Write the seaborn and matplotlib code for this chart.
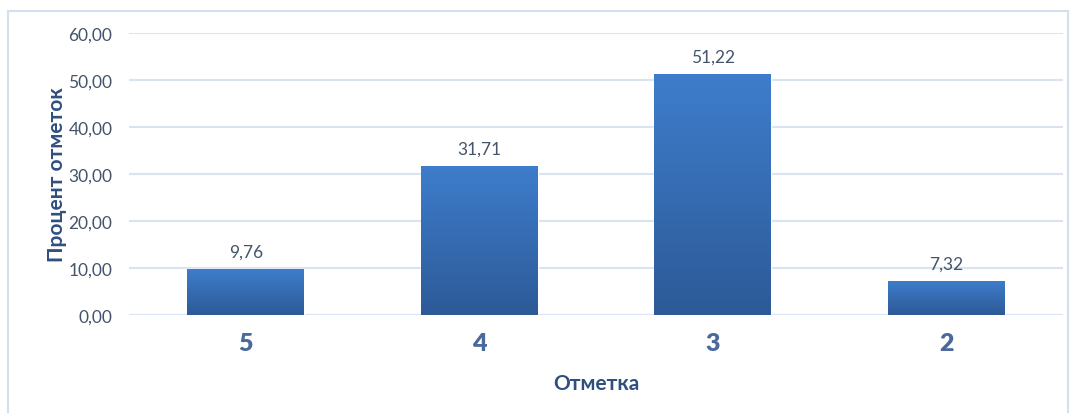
import numpy as np
import pandas as pd
import seaborn as sns
import matplotlib.pyplot as plt
from matplotlib.patches import Rectangle
from matplotlib.colors import LinearSegmentedColormap

# data
marks = ["5", "4", "3", "2"]
percents = [9.76, 31.71, 51.22, 7.32]
y_ticks = [0, 10, 20, 30, 40, 50, 60]

df = pd.DataFrame({"mark": marks, "percent": percents})

sns.set_style("white")
plt.rcParams["font.family"] = ["Lato", "DejaVu Sans"]

text_col = "#44546A"
label_col = "#2F4F7F"
grid_col = "#D9E3F1"

fig = plt.figure(figsize=(10.75, 4.14), dpi=100)
ax = fig.add_axes([0.12, 0.2367, 0.869, 0.6812])

sns.barplot(data=df, x="mark", y="percent", color="#3A72BE", width=0.5,
            saturation=1, ax=ax, zorder=3)

# vertical gradient on each bar
cmap = LinearSegmentedColormap.from_list("bar", ["#2D5A97", "#3E7DCC"])
grad = np.linspace(0, 1, 256).reshape(-1, 1)
for p in ax.patches:
    x0, y0 = p.get_x(), p.get_y()
    w, h = p.get_width(), p.get_height()
    im = ax.imshow(grad, cmap=cmap, aspect="auto", origin="lower",
                   extent=[x0, x0 + w, y0, y0 + h], zorder=4)
    im.set_clip_path(p)
    ax.text(x0 + w / 2, h + 2.0, f"{h:.2f}".replace(".", ","),
            ha="center", va="bottom", fontsize=12.5, color=text_col, zorder=5)

ax.set_xlim(-0.5, len(marks) - 0.5)
ax.set_ylim(0, 60)
ax.set_yticks(y_ticks)
ax.set_yticklabels([f"{v:.2f}".replace(".", ",") for v in y_ticks])
ax.yaxis.grid(True, color=grid_col, linewidth=1.5, zorder=0)
ax.set_axisbelow(True)
for s in ax.spines.values():
    s.set_visible(False)
ax.tick_params(axis="y", length=0, pad=12, labelsize=12.5, labelcolor=text_col)
ax.tick_params(axis="x", length=0, pad=12, labelsize=18, labelcolor="#4A6A9C")
for t in ax.get_xticklabels():
    t.set_fontweight("heavy")

ax.set_xlabel("Отметка", fontsize=15, fontweight="bold", color=label_col, labelpad=14)
ax.set_ylabel("Процент отметок", fontsize=15, fontweight="bold", color=label_col, labelpad=1)

# outer chart border
fig.patches.append(Rectangle((8 / 1075, -0.02), 1060 / 1075, 1 - 12 / 414 + 0.02,
                             transform=fig.transFigure, fill=False,
                             edgecolor="#D4E0F0", linewidth=1.5))

fig.savefig("out.png", dpi=100)
